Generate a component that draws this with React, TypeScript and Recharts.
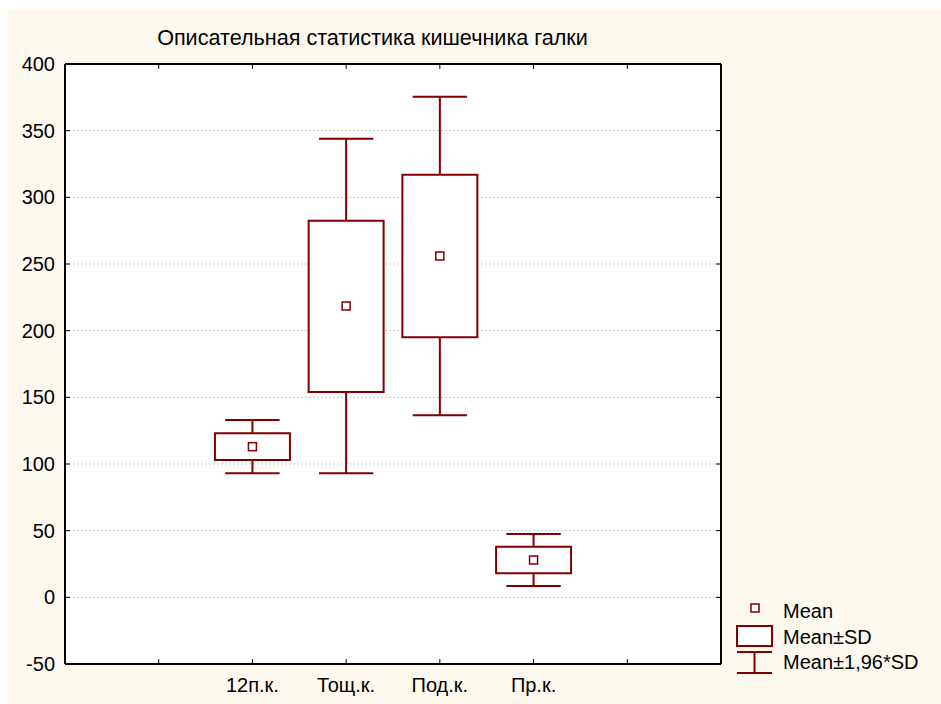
import React from "react";
import {
  ComposedChart,
  XAxis,
  YAxis,
  CartesianGrid,
  ReferenceArea,
  ReferenceLine,
  Scatter,
  Legend,
} from "recharts";

const categories = ["12п.к.", "Тощ.к.", "Под.к.", "Пр.к."];
const positions = [2, 3, 4, 5];
const means = [113, 218.5, 256, 28];
const sdLow = [103, 154, 195, 18];
const sdHigh = [123, 282.5, 317, 38];
const ciLow = [93, 93, 136.5, 8.5];
const ciHigh = [133, 344, 375.5, 47.5];
const yTicks = [-50, 0, 50, 100, 150, 200, 250, 300, 350, 400];
const xTicks = [1, 2, 3, 4, 5, 6];
const xDomain = [0, 7];
const yDomain = [-50, 400];

const DARK = "#800000";
const FONT = "'Liberation Sans', Arial, sans-serif";

const meanData = means.map((m, i) => ({ x: positions[i], y: m }));

const MeanSquare = (p: any) => (
  <rect
    x={p.cx - 4}
    y={p.cy - 4}
    width={8}
    height={8}
    fill="#fff"
    stroke={DARK}
    strokeWidth={1.5}
  />
);

const Nothing = () => <g />;

const LegendContent = () => (
  <svg width={212} height={90} style={{ display: "block" }}>
    <rect x={22} y={8} width={8} height={8} fill="#fff" stroke={DARK} strokeWidth={1.5} />
    <rect x={8} y={30} width={35} height={20} fill="#fff" stroke={DARK} strokeWidth={2} />
    <line x1={8} x2={43} y1={56} y2={56} stroke={DARK} strokeWidth={2} />
    <line x1={8} x2={43} y1={77} y2={77} stroke={DARK} strokeWidth={2} />
    <line x1={25.5} x2={25.5} y1={56} y2={77} stroke={DARK} strokeWidth={2} />
    <text x={54} y={15} fontSize={20} fontFamily={FONT} dominantBaseline="central" fill="#000">Mean</text>
    <text x={54} y={41} fontSize={20} fontFamily={FONT} dominantBaseline="central" fill="#000">Mean±SD</text>
    <text x={54} y={66} fontSize={20} fontFamily={FONT} dominantBaseline="central" fill="#000">Mean±1,96*SD</text>
  </svg>
);

const axisLineStyle = { stroke: "#000", strokeWidth: 2 };
const tickLineStyle = { stroke: "#000", strokeWidth: 1 };
const tickStyle = { fill: "#000", fontSize: 20, fontFamily: FONT };

export default function App() {
  return (
    <div
      style={{
        position: "fixed",
        left: 8,
        top: 9,
        width: 933,
        height: 695,
        background: "#fef9ef",
        fontFamily: FONT,
      }}
    >
      <div
        style={{
          position: "absolute",
          left: 0,
          width: 729,
          top: 17,
          lineHeight: "24px",
          textAlign: "center",
          fontSize: 21.6,
          color: "#000",
        }}
      >
        Описательная статистика кишечника галки
      </div>
      <ComposedChart
        width={933}
        height={695}
        margin={{ top: 54, right: 219, bottom: 10, left: 7 }}
        style={{ position: "absolute", left: 0, top: 0 }}
      >
        <CartesianGrid
          horizontal
          vertical={false}
          stroke="#c8c8c8"
          strokeDasharray="2 2"
          fill="#fff"
          fillOpacity={1}
        />
        <XAxis
          dataKey="x"
          type="number"
          domain={xDomain}
          ticks={xTicks}
          interval={0}
          height={30}
          stroke="#000"
          axisLine={axisLineStyle}
          tickLine={tickLineStyle}
          tickSize={-5}
          tickMargin={19}
          tick={tickStyle}
          tickFormatter={(v: number) => categories[positions.indexOf(v)] ?? ""}
        />
        <XAxis
          xAxisId="t"
          dataKey="x"
          type="number"
          domain={xDomain}
          ticks={xTicks}
          interval={0}
          orientation="top"
          height={1}
          stroke="#000"
          tick={Nothing}
          tickSize={-5}
          tickMargin={0}
          axisLine={axisLineStyle}
          tickLine={tickLineStyle}
        />
        <YAxis
          dataKey="y"
          type="number"
          domain={yDomain}
          ticks={yTicks}
          interval={0}
          width={50}
          stroke="#000"
          axisLine={axisLineStyle}
          tickLine={tickLineStyle}
          tickSize={-5}
          tickMargin={15}
          tick={tickStyle}
        />
        <YAxis
          yAxisId="r"
          dataKey="y"
          type="number"
          domain={yDomain}
          ticks={yTicks}
          interval={0}
          orientation="right"
          width={1}
          stroke="#000"
          tick={Nothing}
          tickSize={-5}
          tickMargin={0}
          axisLine={axisLineStyle}
          tickLine={tickLineStyle}
        />
        {positions.map((p, i) => (
          <ReferenceLine
            key={"wh" + i}
            segment={[
              { x: p, y: sdHigh[i] },
              { x: p, y: ciHigh[i] },
            ]}
            stroke={DARK}
            strokeWidth={2}
          />
        ))}
        {positions.map((p, i) => (
          <ReferenceLine
            key={"wl" + i}
            segment={[
              { x: p, y: sdLow[i] },
              { x: p, y: ciLow[i] },
            ]}
            stroke={DARK}
            strokeWidth={2}
          />
        ))}
        {positions.map((p, i) => (
          <ReferenceLine
            key={"ch" + i}
            segment={[
              { x: p - 0.29, y: ciHigh[i] },
              { x: p + 0.29, y: ciHigh[i] },
            ]}
            stroke={DARK}
            strokeWidth={2}
          />
        ))}
        {positions.map((p, i) => (
          <ReferenceLine
            key={"cl" + i}
            segment={[
              { x: p - 0.29, y: ciLow[i] },
              { x: p + 0.29, y: ciLow[i] },
            ]}
            stroke={DARK}
            strokeWidth={2}
          />
        ))}
        {positions.map((p, i) => (
          <ReferenceArea
            key={"b" + i}
            x1={p - 0.4}
            x2={p + 0.4}
            y1={sdLow[i]}
            y2={sdHigh[i]}
            fill="#fff"
            fillOpacity={1}
            stroke={DARK}
            strokeWidth={2}
          />
        ))}
        <Scatter
          xAxisId="t"
          yAxisId="r"
          data={meanData}
          dataKey="y"
          shape={Nothing}
          legendType="none"
          isAnimationActive={false}
        />
        <Scatter
          name="Mean"
          data={meanData}
          dataKey="y"
          shape={MeanSquare}
          isAnimationActive={false}
        />
        <Legend
          layout="vertical"
          align="center"
          verticalAlign="middle"
          wrapperStyle={{ left: 721, top: 587, width: 212, height: 90 }}
          content={LegendContent}
        />
      </ComposedChart>
    </div>
  );
}
